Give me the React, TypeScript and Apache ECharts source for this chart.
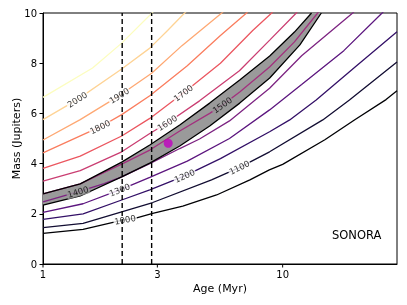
import React, { useEffect, useRef } from "react";
import * as echarts from "echarts";

// Temperature levels (K) of the contour lines
const levels = [1000, 1100, 1200, 1300, 1400, 1500, 1600, 1700, 1800, 1900, 2000, 2100];

// Contour lines: [age (Myr), mass (M_Jup)]
const t1000 = [[1, 1.22], [1.47, 1.38], [2.15, 1.75], [2.46, 1.84], [2.87, 2.02], [3.83, 2.31], [5.3, 2.75], [7.3, 3.35], [8.8, 3.75], [10, 3.97], [15, 4.95], [20, 5.75], [27, 6.55], [30, 6.9]];
const t1100 = [[1, 1.45], [1.47, 1.62], [2.13, 2.08], [2.87, 2.45], [5.05, 3.35], [6.62, 3.85], [8.82, 4.47], [14.7, 5.74], [19, 6.53], [30, 8.05]];
const t1200 = [[1, 1.78], [1.47, 2.0], [2.13, 2.55], [2.79, 2.95], [3.9, 3.51], [5.5, 4.2], [8.82, 5.27], [10.7, 5.74], [13.8, 6.53], [20, 7.84], [30, 9.25]];
const t1300 = [[1, 2.06], [1.47, 2.4], [2.13, 2.98], [2.79, 3.45], [4, 4.1], [6, 5.0], [8.82, 6.14], [12, 7.15], [18, 8.5], [26, 10.0], [30, 10.6]];
const t1400 = [[1, 2.48], [1.43, 2.9], [1.8, 3.2], [2.13, 3.47], [2.79, 4.0], [3.72, 4.6], [4.5, 4.98], [6, 5.7], [8.82, 7.0], [12, 8.3], [19.6, 10], [22, 10.5]];
const t1500 = [[1, 2.79], [1.43, 3.19], [1.8, 3.65], [2.13, 3.98], [2.79, 4.54], [3.72, 5.3], [4.96, 6.0], [5.6, 6.33], [6.62, 6.85], [8.82, 7.85], [11.2, 8.85], [14, 10], [15, 10.4]];
const t1600 = [[1, 3.3], [1.43, 3.72], [2.13, 4.47], [2.79, 5.2], [3.3, 5.62], [4.5, 6.5], [6.6, 7.7], [8.83, 8.92], [11.4, 10], [12, 10.3]];
const t1700 = [[1, 3.81], [1.43, 4.3], [2.13, 5.1], [2.79, 5.8], [3.9, 6.85], [5.5, 8.0], [7.5, 9.3], [9.0, 10], [9.5, 10.3]];
const t1800 = [[1, 4.43], [1.73, 5.46], [2.13, 5.95], [2.79, 6.7], [4, 7.9], [5.5, 9.1], [7.07, 10], [7.5, 10.3]];
const t1900 = [[1, 4.94], [1.43, 5.75], [2.1, 6.73], [2.84, 7.6], [3.8, 8.7], [5.57, 10], [6, 10.3]];
const t2000 = [[1, 5.75], [1.39, 6.55], [2.13, 7.77], [2.79, 8.6], [3.31, 9.3], [3.9, 10], [4.2, 10.3]];
const t2100 = [[1, 6.64], [1.61, 7.81], [2.13, 8.8], [2.85, 10], [3.1, 10.4]];
const contourLines = [t1000, t1100, t1200, t1300, t1400, t1500, t1600, t1700, t1800, t1900, t2000, t2100];

// Ages at which each contour carries its label (null = unlabelled)
const labelAges = [2.2, 6.6, 3.9, 2.09, 1.4, 5.6, 3.3, 3.85, 1.73, 2.08, 1.39, null];

// Grey constraint band edges
const bandTop = [[1, 2.79], [1.43, 3.19], [2.13, 4.06], [2.79, 4.74], [3.72, 5.54], [4.96, 6.41], [6.62, 7.33], [8.83, 8.29], [11.2, 9.24], [13.2, 10]];
const bandBottom = [[1, 2.35], [1.43, 2.71], [2.13, 3.47], [2.79, 4.02], [3.72, 4.7], [4.96, 5.5], [6.62, 6.41], [8.83, 7.41], [11.8, 8.73], [14.5, 10]];

// Vertical age limits and the object
const ageLimits = [2.14, 2.84];
const objectPoint = [3.33, 4.81];

// Axis ticks
const xTickValues = [1, 3, 10];
const yTickValues = [0, 2, 4, 6, 8, 10];

const contourColors = ["#000004", "#120d32", "#331067", "#5c167f", "#7d2482", "#a3307e", "#ca3e72", "#eb5760", "#fa7d5e", "#fea873", "#fed395", "#fcfdbf"];

function interpLog(pts: number[][], age: number): number {
  for (let j = 0; j < pts.length - 1; j++) {
    const [a0, m0] = pts[j];
    const [a1, m1] = pts[j + 1];
    if (age >= a0 && age <= a1) {
      const t = (Math.log(age) - Math.log(a0)) / (Math.log(a1) - Math.log(a0));
      return m0 + t * (m1 - m0);
    }
  }
  return pts[pts.length - 1][1];
}

export default function App() {
  const ref = useRef<HTMLDivElement>(null);
  useEffect(() => {
    const el = ref.current!;
    const chart = echarts.init(el, null, { renderer: "svg" });
    const font = "DejaVu Sans";

    const contourSeries = contourLines.map((pts, i) => ({
      type: "line",
      id: "c" + levels[i],
      data: pts,
      showSymbol: false,
      symbol: "none",
      z: 2,
      silent: true,
      clip: true,
      lineStyle: { color: contourColors[i], width: 1.3 },
    }));

    const bandSeries = {
      type: "custom",
      id: "band",
      z: 1,
      silent: true,
      clip: true,
      data: [[1, 5]],
      renderItem: (_p: any, api: any) => {
        const pts = bandTop.map((p) => api.coord(p)).concat(bandBottom.slice().reverse().map((p) => api.coord(p)));
        return { type: "polygon", shape: { points: pts }, style: { fill: "#9a9a9a" } };
      },
    };

    const edgeSeries = [bandTop, bandBottom].map((pts, i) => ({
      type: "line",
      id: "edge" + i,
      data: pts,
      showSymbol: false,
      symbol: "none",
      z: 3,
      silent: true,
      lineStyle: { color: "#000", width: 1.3 },
    }));

    const dashedSeries = ageLimits.map((a, i) => ({
      type: "line",
      id: "lim" + i,
      data: [[a, 0], [a, 10]],
      showSymbol: false,
      symbol: "none",
      z: 6,
      silent: true,
      lineStyle: { color: "#000", width: 1.4, type: [5, 3] },
    }));

    chart.setOption({
      animation: false,
      grid: {
        left: 43, right: 10, top: 13, bottom: 41,
        outerBoundsMode: "none",
        containLabel: false,
        show: true, borderColor: "#000", borderWidth: 1, backgroundColor: "transparent",
      },
      xAxis: {
        type: "log",
        logBase: 10,
        min: 1,
        max: 30,
        name: "Age (Myr)",
        nameLocation: "middle",
        nameGap: 19,
        nameMoveOverlap: false,
        nameTextStyle: { fontFamily: font, fontSize: 11, color: "#000" },
        axisLine: { lineStyle: { color: "#000", width: 1 } },
        axisTick: { show: false },
        axisLabel: { show: false },
        splitLine: { show: false },
        minorTick: { show: false },
      },
      yAxis: {
        type: "value",
        min: 0,
        max: 10,
        interval: 2,
        name: "Mass (Jupiters)",
        nameLocation: "middle",
        nameGap: 21,
        nameMoveOverlap: false,
        nameTextStyle: { fontFamily: font, fontSize: 11, color: "#000" },
        axisLine: { show: true, lineStyle: { color: "#000", width: 1 } },
        axisTick: { show: true, length: 3.5, lineStyle: { color: "#000" } },
        axisLabel: { fontFamily: font, fontSize: 10, color: "#000", margin: 6 },
        splitLine: { show: false },
      },
      series: [
        bandSeries,
        ...contourSeries,
        ...edgeSeries,
        ...dashedSeries,
        {
          type: "scatter",
          id: "object",
          data: [objectPoint],
          symbolSize: 9,
          z: 7,
          silent: true,
          itemStyle: { color: "#c000c0" },
        },
        { type: "scatter", id: "clabels", data: [], z: 5 },
      ],
    });

    const toPx = (p: number[]) => chart.convertToPixel({ gridIndex: 0 }, p) as number[];
    const labelData: any[] = [];
    levels.forEach((lv, i) => {
      const age = labelAges[i];
      if (age == null) return;
      const pts = contourLines[i];
      const m = interpLog(pts, age);
      const a = toPx([age * 0.93, interpLog(pts, age * 0.93)]);
      const b = toPx([age * 1.07, interpLog(pts, age * 1.07)]);
      const rot = (Math.atan2(a[1] - b[1], b[0] - a[0]) * 180) / Math.PI;
      const inBand = m >= interpLog(bandBottom, age) - 0.01 && m <= interpLog(bandTop, age) + 0.01;
      labelData.push({
        value: [age, m],
        label: {
          rotate: rot,
          formatter: String(lv),
          backgroundColor: inBand ? "#9a9a9a" : "#ffffff",
        },
      });
    });

    const g0 = toPx([1, 0]);
    const gy = g0[1];
    const graphics: any[] = [];
    xTickValues.forEach((v) => {
      const px = toPx([v, 0])[0];
      graphics.push({ type: "line", shape: { x1: px, y1: gy, x2: px, y2: gy + 3.5 }, style: { stroke: "#000", lineWidth: 1 }, silent: true });
      graphics.push({
        type: "text",
        x: px,
        y: gy + 5,
        style: { text: String(v), fontFamily: font, fontSize: 10, fill: "#000", align: "center", verticalAlign: "top" },
        silent: true,
      });
    });
    graphics.push({
      type: "text",
      x: 332,
      y: 229,
      style: { text: "SONORA", fontFamily: font, fontSize: 11.5, fill: "#000", align: "left", verticalAlign: "top" },
      silent: true,
    });

    chart.setOption({
      yAxis: { axisTick: { customValues: yTickValues }, axisLabel: { customValues: yTickValues } },
      series: [
        {
          type: "scatter",
          id: "clabels",
          data: labelData,
          symbolSize: 1,
          z: 5,
          silent: true,
          itemStyle: { color: "rgba(0,0,0,0)" },
          label: {
            show: true,
            position: "inside",
            fontFamily: font,
            fontSize: 8.5,
            color: "#000",
            padding: [0, 1],
            align: "center",
            verticalAlign: "middle",
          },
        },
      ],
      graphic: graphics,
    });

    return () => chart.dispose();
  }, []);
  return <div ref={ref} style={{ position: "fixed", left: 0, top: 0, width: 407, height: 305 }} />;
}
